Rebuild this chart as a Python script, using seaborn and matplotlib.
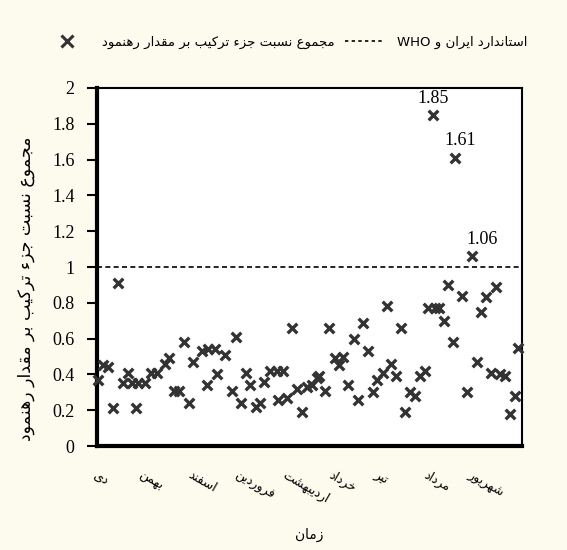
import numpy as np
import pandas as pd
import matplotlib
matplotlib.use('Agg')
import matplotlib.pyplot as plt
import seaborn as sns
from matplotlib.lines import Line2D

## Data

# sample position along the time axis (0-100) and ratio sum
sample_pos = [0.2, 1.4, 2.6, 3.8, 4.9, 6.1, 7.3, 8.2, 9.2, 9.6, 11.3, 12.7, 14.1,
              16.0, 16.9, 18.1, 19.3, 20.5, 21.6, 22.6, 24.7, 25.9, 26.1, 27.8,
              28.2, 30.1, 31.8, 32.7, 33.9, 35.1, 36.0, 37.4, 38.4, 39.3, 40.7,
              42.4, 42.6, 43.8, 44.7, 45.9, 47.1, 48.2, 49.4, 50.6, 51.8, 52.2,
              53.6, 54.6, 56.0, 56.9, 57.9, 59.1, 60.5, 61.4, 62.6, 63.8, 64.9,
              65.9, 67.3, 68.2, 69.2, 70.4, 71.5, 72.5, 73.6, 74.8, 76.0, 77.2,
              77.9, 79.1, 79.5, 80.5, 81.6, 82.6, 83.8, 84.2, 85.9, 87.1, 88.2,
              89.4, 90.4, 91.5, 92.7, 93.9, 94.8, 96.0, 97.2, 98.4, 99.1]
ratio_sum = [0.37, 0.45, 0.44, 0.21, 0.91, 0.35, 0.41, 0.35, 0.21, 0.35, 0.35, 0.41, 0.41,
             0.46, 0.49, 0.31, 0.31, 0.58, 0.24, 0.47, 0.53, 0.34, 0.54, 0.54,
             0.40, 0.51, 0.31, 0.61, 0.24, 0.41, 0.34, 0.22, 0.24, 0.36, 0.42,
             0.42, 0.26, 0.42, 0.27, 0.66, 0.32, 0.19, 0.33, 0.34, 0.38, 0.39,
             0.31, 0.66, 0.49, 0.45, 0.50, 0.34, 0.60, 0.26, 0.69, 0.53, 0.30,
             0.37, 0.41, 0.78, 0.46, 0.39, 0.66, 0.19, 0.30, 0.28, 0.39, 0.42,
             0.77, 1.85, 0.77, 0.77, 0.70, 0.90, 0.58, 1.61, 0.84, 0.30, 1.06,
             0.47, 0.75, 0.83, 0.41, 0.89, 0.40, 0.39, 0.18, 0.28, 0.55]

standard_limit = 1.0

month_names = ['دی', 'بهمن', 'اسفند', 'فروردین', 'اردیبهشت', 'خرداد', 'تیر', 'مرداد', 'شهریور']
month_pos = [0.2, 10.8, 22.4, 33.2, 44.7, 55.5, 66.1, 77.9, 88.2]

y_ticks = [0, 0.2, 0.4, 0.6, 0.8, 1, 1.2, 1.4, 1.6, 1.8, 2]

label_points = [1.85, 1.61, 1.06]
label_offsets = [(0, 6), (4, 6), (7, 6)]

series_label = 'مجموع نسبت جزء ترکیب بر مقدار رهنمود'
standard_label = 'استاندارد ایران و'
xlabel = 'زمان'

## Persian shaping (matplotlib draws no contextual forms / RTL)
FORMS = {  # isolated, final, initial, medial
    'ا': ('\uFE8D', '\uFE8E', None, None),
    'ب': ('\uFE8F', '\uFE90', '\uFE91', '\uFE92'),
    'ت': ('\uFE95', '\uFE96', '\uFE97', '\uFE98'),
    'ج': ('\uFE9D', '\uFE9E', '\uFE9F', '\uFEA0'),
    'خ': ('\uFEA5', '\uFEA6', '\uFEA7', '\uFEA8'),
    'د': ('\uFEA9', '\uFEAA', None, None),
    'ر': ('\uFEAD', '\uFEAE', None, None),
    'ز': ('\uFEAF', '\uFEB0', None, None),
    'س': ('\uFEB1', '\uFEB2', '\uFEB3', '\uFEB4'),
    'ش': ('\uFEB5', '\uFEB6', '\uFEB7', '\uFEB8'),
    'ع': ('\uFEC9', '\uFECA', '\uFECB', '\uFECC'),
    'ف': ('\uFED1', '\uFED2', '\uFED3', '\uFED4'),
    'ق': ('\uFED5', '\uFED6', '\uFED7', '\uFED8'),
    'ک': ('\uFB8E', '\uFB8F', '\uFB90', '\uFB91'),
    'م': ('\uFEE1', '\uFEE2', '\uFEE3', '\uFEE4'),
    'ن': ('\uFEE5', '\uFEE6', '\uFEE7', '\uFEE8'),
    'ه': ('\uFEE9', '\uFEEA', '\uFEEB', '\uFEEC'),
    'و': ('\uFEED', '\uFEEE', None, None),
    'ی': ('\uFBFC', '\uFBFD', '\uFBFE', '\uFBFF'),
    'ء': ('\uFE80', None, None, None),
}


def fa(text):
    out = []
    for i, c in enumerate(text):
        if c not in FORMS:
            out.append(c)
            continue
        f = FORMS[c]
        prev = text[i - 1] if i > 0 else ''
        nxt = text[i + 1] if i + 1 < len(text) else ''
        join_prev = prev in FORMS and FORMS[prev][2] is not None and f[1] is not None
        join_next = f[2] is not None and nxt in FORMS and FORMS[nxt][1] is not None
        if join_prev and join_next:
            out.append(f[3])
        elif join_prev:
            out.append(f[1])
        elif join_next:
            out.append(f[2])
        else:
            out.append(f[0])
    return ''.join(out)[::-1]


df = pd.DataFrame({'pos': sample_pos, 'ratio': ratio_sum})

bg = '#fdfaee'
mark_col = '#333333'
fa_font = ['DejaVu Sans']
num_font = ['Liberation Serif', 'DejaVu Serif']

fig = plt.figure(figsize=(5.67, 5.5), dpi=100, facecolor=bg)
ax = fig.add_axes([0.171, 0.189, 0.75, 0.651])
ax.set_facecolor('white')

sns.scatterplot(data=df, x='pos', y='ratio', marker='x', s=48, color=mark_col,
                linewidth=2.4, ax=ax, clip_on=False, zorder=3, legend=False)
ax.axhline(standard_limit, color='black', lw=1.2, ls=(0, (3, 2)), zorder=2)

for v, off in zip(label_points, label_offsets):
    i = ratio_sum.index(v)
    ax.annotate(f'{v:.2f}', (sample_pos[i], v), xytext=off, textcoords='offset points',
                ha='center', va='bottom', fontsize=13, family=num_font)

ax.set_xlim(0, 100)
ax.set_ylim(0, 2)
ax.set_yticks(y_ticks)
ax.set_yticklabels([f'{t:g}' for t in y_ticks], family=num_font, fontsize=13)
ax.tick_params(axis='y', length=7, width=1.5, direction='out', pad=9)

ax.set_xticks(month_pos)
ax.set_xticklabels([fa(m) for m in month_names], rotation=-30, ha='left',
                   rotation_mode='anchor', family=fa_font, fontsize=9)
ax.tick_params(axis='x', length=0, pad=16)

for side in ['left', 'bottom']:
    ax.spines[side].set_linewidth(3)
for side in ['top', 'right']:
    ax.spines[side].set_linewidth(1.5)
for s in ax.spines.values():
    s.set_color('black')

ax.set_xlabel(fa(xlabel), family=fa_font, fontsize=10, labelpad=16)
ax.set_ylabel(fa(series_label), family=fa_font, fontsize=12.5, labelpad=4)
ax.yaxis.set_label_coords(-0.145, 0.44)

handles = [Line2D([], [], ls='none', marker='x', color=mark_col, markersize=8, mew=2.2),
           Line2D([], [], color='black', lw=1.2, ls=(0, (2, 2)))]
labels = [fa(series_label), 'WHO ' + fa(standard_label)]
fig.legend(handles, labels, loc='center left', bbox_to_anchor=(0.065, 1 - 42 / 550),
           ncol=2, frameon=False, prop={'family': fa_font, 'size': 9.5},
           handlelength=2.8, handletextpad=1.2, columnspacing=0.8)

fig.savefig('out.png', dpi=100, facecolor=bg)
